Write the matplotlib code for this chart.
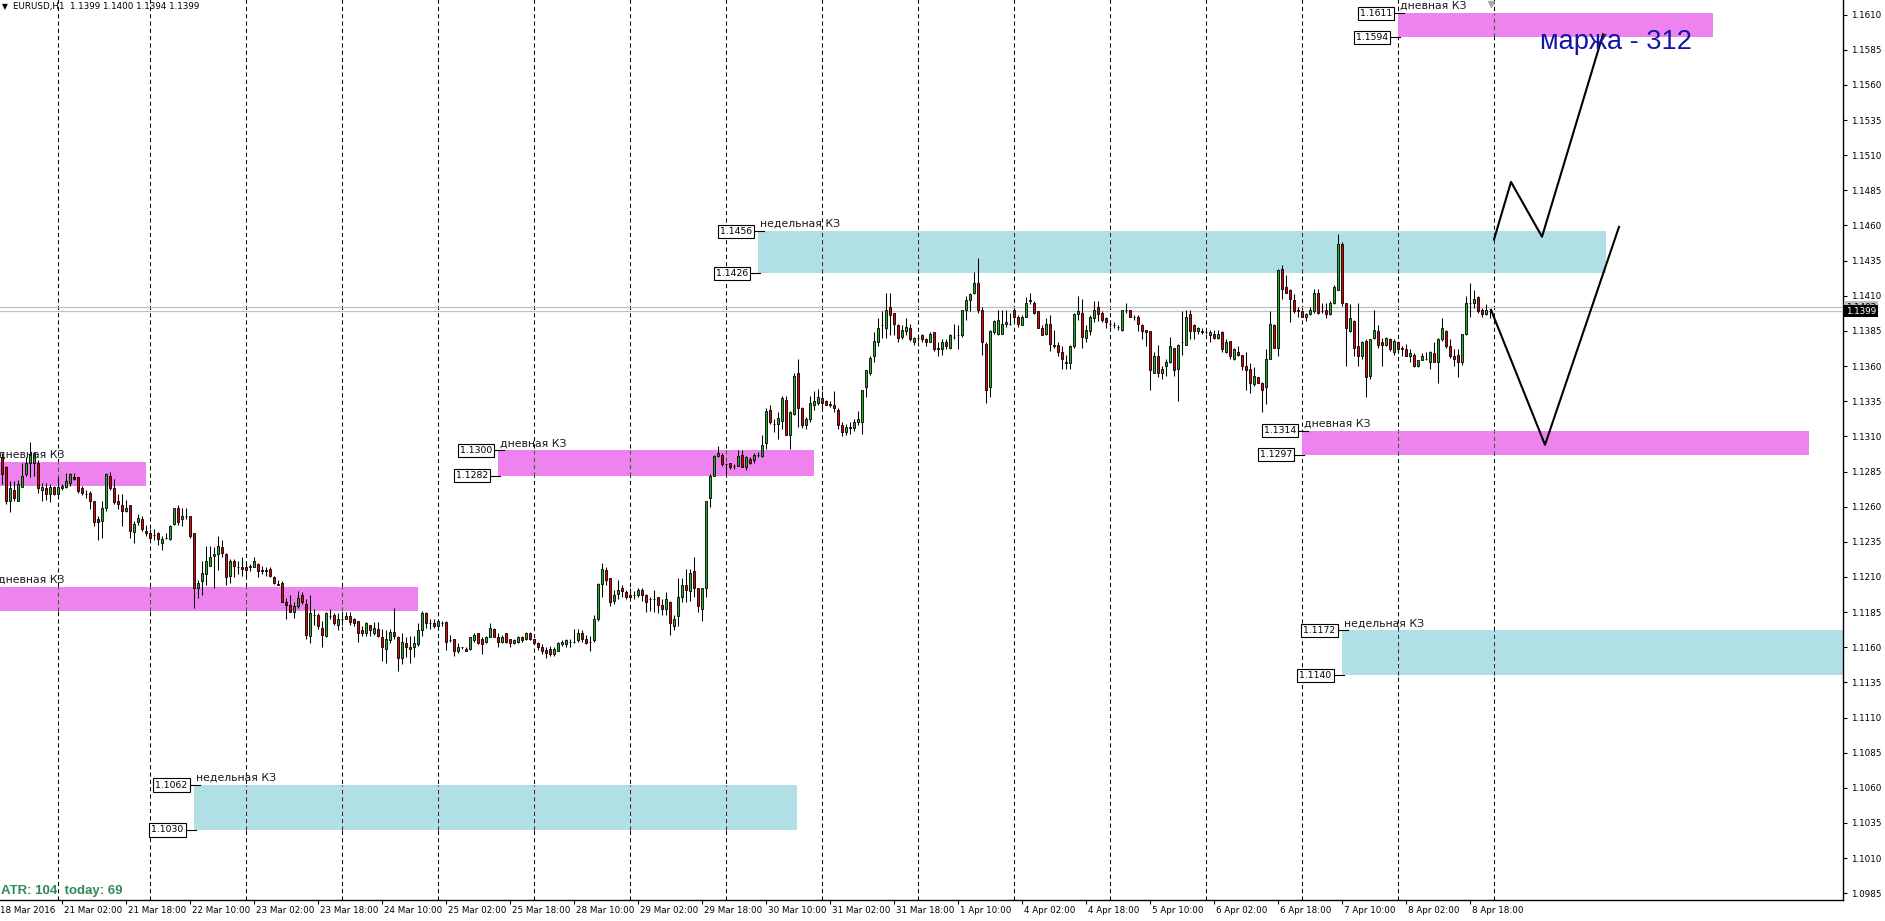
import numpy as np
import pandas as pd
import matplotlib
matplotlib.use("Agg")
import matplotlib.pyplot as plt
from matplotlib import transforms

# EURUSD H1 candles, prices in points (1 point = 0.0001)
opens = [
    11290, 11295, 11288, 11264, 11272, 11264, 11274, 11283, 11291, 11291,
    11291, 11272, 11273, 11269, 11274, 11269, 11273, 11274, 11277, 11281,
    11281, 11273, 11269, 11270, 11264, 11251, 11250, 11259, 11282, 11273,
    11264, 11261, 11257, 11261, 11242, 11249, 11251, 11243, 11241, 11240,
    11241, 11234, 11238, 11237, 11248, 11259, 11251, 11253, 11253, 11241,
    11202, 11207, 11212, 11218, 11225, 11226, 11231, 11226, 11211, 11221,
    11217, 11217, 11217, 11217, 11217, 11219, 11215, 11215, 11216, 11210,
    11205, 11206, 11192, 11190, 11185, 11189, 11197, 11191, 11168, 11183,
    11183, 11174, 11168, 11182, 11183, 11176, 11180, 11180, 11182, 11180,
    11179, 11172, 11170, 11176, 11170, 11173, 11167, 11159, 11165, 11171,
    11167, 11152, 11163, 11160, 11160, 11162, 11172, 11184, 11177, 11177,
    11175, 11177, 11178, 11165, 11166, 11157, 11160, 11159, 11159, 11165,
    11170, 11166, 11164, 11167, 11173, 11167, 11164, 11170, 11166, 11163,
    11164, 11167, 11166, 11170, 11166, 11163, 11160, 11158, 11159, 11155,
    11157, 11162, 11162, 11164, 11164, 11165, 11170, 11166, 11164, 11165,
    11180, 11205, 11215, 11209, 11193, 11198, 11202, 11199, 11197, 11197,
    11197, 11201, 11197, 11194, 11194, 11196, 11190, 11187, 11192, 11175,
    11182, 11196, 11204, 11200, 11214, 11202, 11187, 11202, 11266, 11282,
    11296, 11297, 11290, 11291, 11289, 11289, 11297, 11288, 11294, 11293,
    11297, 11296, 11305, 11329, 11319, 11319, 11321, 11336, 11311, 11326,
    11355, 11330, 11318, 11322, 11332, 11334, 11337, 11335, 11333, 11332,
    11329, 11318, 11313, 11317, 11316, 11320, 11320, 11345, 11355, 11367,
    11377, 11389, 11387, 11402, 11398, 11389, 11381, 11385, 11387, 11377,
    11380, 11382, 11379, 11377, 11384, 11373, 11372, 11377, 11373, 11381,
    11382, 11382, 11400, 11407, 11412, 11419, 11400, 11376, 11345, 11384,
    11383, 11383, 11390, 11390, 11400, 11395, 11389, 11395, 11406, 11405,
    11399, 11387, 11383, 11390, 11375, 11375, 11370, 11363, 11362, 11374,
    11397, 11398, 11380, 11385, 11394, 11402, 11398, 11394, 11390, 11389,
    11388, 11386, 11400, 11400, 11395, 11395, 11389, 11386, 11385, 11355,
    11367, 11355, 11360, 11363, 11373, 11358, 11377, 11375, 11397, 11389,
    11385, 11385, 11384, 11382, 11383, 11380, 11384, 11370, 11378, 11365,
    11370, 11368, 11360, 11358, 11347, 11352, 11348, 11345, 11365, 11389,
    11373, 11429, 11416, 11414, 11407, 11400, 11399, 11395, 11397, 11399,
    11412, 11399, 11400, 11397, 11405, 11414, 11447, 11405, 11385, 11392,
    11374, 11367, 11378, 11353, 11380, 11385, 11377, 11375, 11379, 11370,
    11377, 11373, 11372, 11367, 11368, 11360, 11364, 11365, 11363, 11369,
    11363, 11379, 11385, 11374, 11367, 11368, 11363, 11383, 11405, 11405,
    11409, 11400, 11397, 11399,
]
highs = [
    11300, 11298, 11289, 11278, 11278, 11279, 11291, 11295, 11306, 11299,
    11293, 11277, 11277, 11276, 11275, 11281, 11276, 11284, 11284, 11284,
    11281, 11275, 11272, 11271, 11264, 11253, 11264, 11284, 11285, 11280,
    11269, 11269, 11265, 11261, 11250, 11255, 11253, 11247, 11244, 11244,
    11242, 11239, 11241, 11247, 11259, 11261, 11259, 11259, 11253, 11241,
    11208, 11221, 11232, 11232, 11231, 11239, 11236, 11227, 11223, 11223,
    11221, 11224, 11220, 11219, 11224, 11220, 11218, 11217, 11217, 11211,
    11208, 11207, 11195, 11197, 11192, 11200, 11199, 11194, 11197, 11187,
    11184, 11179, 11185, 11187, 11184, 11184, 11184, 11185, 11185, 11181,
    11179, 11175, 11178, 11176, 11178, 11178, 11173, 11172, 11173, 11188,
    11168, 11170, 11167, 11168, 11168, 11177, 11186, 11185, 11180, 11180,
    11180, 11179, 11179, 11169, 11166, 11163, 11160, 11160, 11167, 11170,
    11170, 11167, 11168, 11177, 11174, 11170, 11169, 11170, 11166, 11166,
    11168, 11168, 11171, 11171, 11166, 11164, 11162, 11160, 11161, 11160,
    11164, 11165, 11166, 11166, 11173, 11173, 11172, 11169, 11168, 11183,
    11206, 11220, 11217, 11209, 11201, 11208, 11204, 11201, 11202, 11200,
    11202, 11202, 11198, 11196, 11201, 11196, 11194, 11199, 11193, 11183,
    11209, 11209, 11216, 11216, 11224, 11202, 11202, 11264, 11283, 11297,
    11303, 11298, 11291, 11291, 11290, 11300, 11300, 11296, 11295, 11298,
    11299, 11311, 11330, 11332, 11322, 11327, 11339, 11339, 11328, 11355,
    11365, 11331, 11324, 11339, 11342, 11344, 11342, 11336, 11335, 11342,
    11330, 11320, 11319, 11320, 11322, 11328, 11343, 11357, 11367, 11384,
    11394, 11399, 11412, 11412, 11398, 11390, 11389, 11394, 11390, 11381,
    11383, 11383, 11380, 11384, 11384, 11377, 11379, 11379, 11383, 11390,
    11389, 11400, 11410, 11412, 11427, 11437, 11402, 11377, 11386, 11393,
    11400, 11400, 11400, 11398, 11400, 11396, 11396, 11409, 11412, 11406,
    11399, 11389, 11394, 11396, 11386, 11377, 11374, 11368, 11375, 11398,
    11410, 11408, 11389, 11396, 11406, 11406, 11399, 11395, 11393, 11391,
    11389, 11400, 11405, 11400, 11396, 11396, 11390, 11386, 11385, 11370,
    11375, 11360, 11365, 11381, 11373, 11376, 11399, 11400, 11400, 11390,
    11388, 11387, 11385, 11386, 11386, 11386, 11385, 11379, 11378, 11373,
    11374, 11368, 11370, 11362, 11359, 11352, 11349, 11372, 11399, 11390,
    11429, 11432, 11425, 11415, 11411, 11402, 11400, 11398, 11402, 11415,
    11415, 11405, 11405, 11406, 11418, 11454, 11448, 11405, 11404, 11393,
    11405, 11378, 11379, 11379, 11400, 11389, 11380, 11381, 11380, 11379,
    11378, 11374, 11376, 11372, 11369, 11364, 11369, 11370, 11371, 11377,
    11380, 11394, 11386, 11379, 11372, 11372, 11383, 11410, 11419, 11414,
    11410, 11401, 11404, 11400,
]
lows = [
    11282, 11276, 11262, 11256, 11264, 11264, 11274, 11282, 11281, 11282,
    11270, 11264, 11265, 11263, 11268, 11266, 11272, 11273, 11275, 11279,
    11270, 11268, 11266, 11258, 11246, 11236, 11238, 11257, 11272, 11262,
    11258, 11246, 11256, 11238, 11234, 11247, 11243, 11239, 11236, 11236,
    11233, 11229, 11237, 11236, 11247, 11247, 11246, 11251, 11238, 11188,
    11195, 11197, 11204, 11218, 11202, 11215, 11224, 11204, 11206, 11210,
    11212, 11211, 11211, 11214, 11217, 11210, 11212, 11211, 11210, 11205,
    11204, 11192, 11180, 11185, 11181, 11188, 11191, 11166, 11163, 11176,
    11173, 11160, 11167, 11180, 11176, 11172, 11176, 11180, 11176, 11175,
    11164, 11168, 11168, 11168, 11169, 11167, 11150, 11149, 11163, 11166,
    11143, 11148, 11153, 11149, 11153, 11161, 11168, 11174, 11173, 11174,
    11175, 11175, 11158, 11164, 11154, 11156, 11159, 11157, 11158, 11164,
    11162, 11155, 11163, 11167, 11167, 11160, 11163, 11163, 11160, 11162,
    11163, 11164, 11165, 11165, 11162, 11158, 11155, 11152, 11154, 11154,
    11157, 11161, 11160, 11160, 11163, 11164, 11164, 11162, 11157, 11164,
    11179, 11196, 11204, 11189, 11191, 11194, 11196, 11194, 11193, 11194,
    11196, 11193, 11185, 11186, 11185, 11184, 11183, 11183, 11169, 11172,
    11175, 11192, 11192, 11193, 11196, 11185, 11179, 11196, 11260, 11282,
    11295, 11289, 11282, 11287, 11287, 11289, 11288, 11286, 11290, 11291,
    11295, 11295, 11301, 11319, 11313, 11308, 11315, 11311, 11301, 11325,
    11317, 11316, 11315, 11320, 11329, 11332, 11329, 11332, 11331, 11327,
    11315, 11310, 11311, 11312, 11314, 11318, 11312, 11338, 11354, 11363,
    11374, 11380, 11380, 11382, 11382, 11377, 11379, 11382, 11378, 11375,
    11378, 11377, 11374, 11377, 11371, 11367, 11368, 11372, 11372, 11379,
    11372, 11381, 11393, 11399, 11411, 11398, 11368, 11334, 11338, 11383,
    11382, 11383, 11388, 11389, 11391, 11388, 11389, 11395, 11404, 11397,
    11387, 11382, 11382, 11371, 11373, 11367, 11358, 11358, 11358, 11373,
    11393, 11373, 11377, 11382, 11391, 11392, 11391, 11387, 11388, 11387,
    11386, 11385, 11398, 11395, 11393, 11385, 11379, 11374, 11343, 11355,
    11352, 11351, 11353, 11362, 11353, 11335, 11368, 11375, 11379, 11379,
    11383, 11383, 11383, 11377, 11379, 11379, 11370, 11369, 11365, 11364,
    11367, 11357, 11343, 11341, 11346, 11348, 11327, 11333, 11365, 11373,
    11367, 11408, 11412, 11391, 11398, 11395, 11395, 11392, 11396, 11398,
    11397, 11398, 11394, 11396, 11404, 11414, 11403, 11360, 11384, 11367,
    11360, 11365, 11338, 11351, 11379, 11373, 11360, 11374, 11371, 11368,
    11369, 11367, 11367, 11363, 11359, 11359, 11364, 11364, 11358, 11363,
    11348, 11378, 11373, 11366, 11360, 11352, 11361, 11382, 11395, 11401,
    11398, 11395, 11396, 11394,
]
closes = [
    11296, 11283, 11264, 11273, 11266, 11276, 11282, 11291, 11297, 11298,
    11273, 11274, 11269, 11274, 11269, 11274, 11275, 11278, 11283, 11280,
    11271, 11270, 11269, 11264, 11249, 11249, 11259, 11283, 11273, 11263,
    11262, 11257, 11259, 11243, 11248, 11252, 11244, 11241, 11238, 11240,
    11237, 11237, 11238, 11246, 11259, 11249, 11253, 11253, 11239, 11202,
    11206, 11213, 11221, 11224, 11226, 11232, 11227, 11210, 11221, 11218,
    11217, 11216, 11215, 11218, 11221, 11214, 11214, 11214, 11211, 11206,
    11204, 11192, 11190, 11185, 11189, 11195, 11192, 11169, 11184, 11183,
    11175, 11169, 11184, 11182, 11177, 11180, 11180, 11182, 11178, 11177,
    11170, 11170, 11177, 11172, 11174, 11168, 11160, 11166, 11171, 11168,
    11152, 11164, 11160, 11159, 11163, 11172, 11184, 11177, 11177, 11175,
    11179, 11177, 11164, 11165, 11157, 11160, 11160, 11157, 11167, 11169,
    11163, 11162, 11167, 11174, 11167, 11164, 11167, 11164, 11163, 11165,
    11167, 11165, 11170, 11166, 11163, 11160, 11157, 11156, 11155, 11159,
    11163, 11164, 11165, 11164, 11164, 11170, 11166, 11163, 11164, 11180,
    11205, 11216, 11208, 11192, 11197, 11201, 11200, 11196, 11196, 11197,
    11201, 11197, 11192, 11194, 11194, 11190, 11187, 11194, 11177, 11180,
    11196, 11204, 11201, 11213, 11202, 11189, 11202, 11264, 11282, 11296,
    11298, 11290, 11290, 11288, 11289, 11296, 11288, 11295, 11291, 11297,
    11297, 11304, 11328, 11320, 11319, 11323, 11337, 11311, 11327, 11353,
    11330, 11318, 11322, 11334, 11335, 11338, 11334, 11332, 11332, 11330,
    11318, 11313, 11317, 11316, 11320, 11322, 11343, 11357, 11366, 11378,
    11387, 11389, 11400, 11396, 11390, 11380, 11386, 11388, 11379, 11380,
    11380, 11379, 11377, 11383, 11372, 11372, 11377, 11374, 11382, 11381,
    11382, 11400, 11407, 11411, 11419, 11400, 11377, 11343, 11385, 11392,
    11393, 11390, 11391, 11390, 11395, 11390, 11395, 11405, 11407, 11398,
    11387, 11382, 11390, 11376, 11374, 11370, 11365, 11362, 11374, 11397,
    11399, 11381, 11386, 11395, 11400, 11397, 11393, 11391, 11390, 11389,
    11388, 11400, 11400, 11395, 11395, 11390, 11385, 11384, 11357, 11367,
    11355, 11358, 11363, 11374, 11357, 11375, 11377, 11395, 11385, 11385,
    11387, 11384, 11384, 11384, 11380, 11383, 11372, 11377, 11367, 11372,
    11368, 11360, 11357, 11348, 11353, 11348, 11343, 11365, 11390, 11373,
    11428, 11415, 11412, 11408, 11399, 11399, 11395, 11397, 11400, 11412,
    11398, 11399, 11397, 11405, 11416, 11447, 11405, 11387, 11394, 11373,
    11367, 11377, 11352, 11379, 11386, 11375, 11375, 11380, 11372, 11378,
    11372, 11372, 11367, 11369, 11360, 11364, 11367, 11365, 11370, 11363,
    11379, 11387, 11374, 11367, 11365, 11363, 11383, 11405, 11405, 11408,
    11399, 11397, 11400, 11399,
]

# trading days on the chart and the first hourly bar of each day
days = ["2016-03-18", "2016-03-21", "2016-03-22", "2016-03-23", "2016-03-24",
        "2016-03-25", "2016-03-28", "2016-03-29", "2016-03-30", "2016-03-31",
        "2016-04-01", "2016-04-04", "2016-04-05", "2016-04-06", "2016-04-07",
        "2016-04-08"]
first_hour = [9, 1, 0, 0, 0, 0, 0, 0, 0, 0, 0, 0, 0, 0, 0, 0]

# zones drawn on the chart (start/end in bars)
zone_start = [-0.5, -0.5, 125.1, 48.9, 190.1, 326.0, 335.9, 350.0]
zone_end = [36.9, 104.9, 204.0, 199.8, 402.0, 452.8, 480.0, 428.8]
zone_top = [1.1292, 1.1203, 1.1300, 1.1062, 1.1456, 1.1314, 1.1172, 1.1611]
zone_bot = [1.1275, 1.1186, 1.1282, 1.1030, 1.1426, 1.1297, 1.1140, 1.1594]
zone_weekly = [False, False, False, True, True, False, True, False]

# hand drawn scenario lines
path_a_x = [374.0, 378.25, 386.0, 401.25]
path_a_y = [1.1450, 1.1491, 1.1452, 1.1596]
path_b_x = [373.25, 386.75, 405.25]
path_b_y = [1.1400, 1.1304, 1.1459]

bid = 1.1399
ask = 1.1402
header = "EURUSD,H1  1.1399 1.1400 1.1394 1.1399"
atr_text = "ATR: 104  today: 69"
note_text = "маржа - 312"

o = np.array(opens) / 1e4
h = np.array(highs) / 1e4
l = np.array(lows) / 1e4
c = np.array(closes) / 1e4

times = []
for d, h0 in zip(days, first_hour):
    times += list(pd.date_range(f"{d} {h0:02d}:00", f"{d} 23:00", freq="h"))
n = len(times)
x = np.arange(n)

W, H = 1885, 921
fig = plt.figure(figsize=(W / 100, H / 100), dpi=100)
ax = fig.add_axes([0, 21 / H, 1843 / W, 900 / H])
ax.set_xlim(0.5, 461.25)
ax.set_ylim(1.09802, 1.16204)
for s in ["top", "left"]:
    ax.spines[s].set_visible(False)
for s in ["right", "bottom"]:
    ax.spines[s].set_linewidth(1.0)

DASH = (0, (4, 3))
VIOLET = "#EE82EE"
POWDER = "#B0E0E6"

# day separators
seps = [i for i in range(1, n) if times[i].date() != times[i - 1].date()] + [n]
ax.vlines(seps, 1.09, 1.17, colors="black", lw=0.75, linestyles=DASH, zorder=1)

# zones
for i in range(len(zone_start)):
    col = POWDER if zone_weekly[i] else VIOLET
    ax.fill_between([zone_start[i], zone_end[i]], zone_bot[i], zone_top[i],
                    color=col, lw=0, zorder=2)
    inv = "#4F1F19" if zone_weekly[i] else "#117D11"
    for sx in seps:
        if zone_start[i] < sx < zone_end[i]:
            ax.vlines(sx, zone_bot[i], zone_top[i], colors=inv, lw=0.75,
                      linestyles=DASH, zorder=2.5)
    name = "недельная КЗ" if zone_weekly[i] else "дневная КЗ"
    ax.annotate(name, xy=(zone_start[i], zone_top[i]), xytext=(1.5, 1.5),
                textcoords="offset points", ha="left", va="bottom",
                fontsize=7.8, color="#1a1a1a", annotation_clip=False, zorder=6)
    if zone_start[i] > 0:
        box = dict(boxstyle="square,pad=0.22", fc="white", ec="black", lw=0.8)
        ax.plot([zone_start[i] - 1.0, zone_start[i] + 1.5], [zone_top[i]] * 2,
                color="black", lw=0.8, zorder=6)
        ax.plot([zone_start[i] - 2.0, zone_start[i] + 0.5], [zone_bot[i]] * 2,
                color="black", lw=0.8, zorder=6)
        ax.annotate(f"{zone_top[i]:.4f}", xy=(zone_start[i] - 1.0, zone_top[i]),
                    xytext=(-1.5, 0), textcoords="offset points", ha="right",
                    va="center", fontsize=6.7, bbox=box, zorder=7)
        ax.annotate(f"{zone_bot[i]:.4f}", xy=(zone_start[i] - 2.0, zone_bot[i]),
                    xytext=(-1.5, 0), textcoords="offset points", ha="right",
                    va="center", fontsize=6.7, bbox=box, zorder=7)

# bid / ask lines
ax.axhline(ask, color="#C0C0C0", lw=0.9, zorder=3)
ax.axhline(bid, color="#C0C0C0", lw=0.9, zorder=3)

# candles
up = c >= o
ax.vlines(x, np.minimum(l, np.minimum(o, c)), np.maximum(h, np.maximum(o, c)),
          colors="black", lw=0.75, zorder=4)
ax.bar(x, c - o, bottom=o, width=0.6, color=np.where(up, "#22B022", "#E00000"),
       edgecolor="black", lw=0.6, zorder=5)

# scenario lines
ax.plot(path_a_x, path_a_y, color="black", lw=1.5, zorder=6)
ax.plot(path_b_x, path_b_y, color="black", lw=1.5, zorder=6)

ax.text(385.5, 1.15856, note_text, fontsize=19.5, family="Liberation Sans",
        color="#1616A6", ha="left", va="baseline", zorder=7)

# right price scale
yt = np.round(np.arange(1.0985, 1.16101, 0.0025), 4)
ax.yaxis.tick_right()
ax.set_yticks(yt)
ax.set_yticklabels([f"{v:.4f}" for v in yt])
ax.tick_params(axis="y", direction="out", length=3, width=0.8, pad=2.5,
               labelsize=6.3)

ybl = transforms.blended_transform_factory(ax.transAxes, ax.transData)
ax.text(1.0 + 3 / 1843, ask, f"{ask:.4f}", transform=ybl, ha="left", va="center",
        fontsize=6.3, color="black", clip_on=False, zorder=8,
        bbox=dict(boxstyle="square,pad=0.2", fc="#C0C0C0", ec="none"))
ax.text(1.0 + 3 / 1843, bid, f"{bid:.4f}", transform=ybl, ha="left", va="center",
        fontsize=6.3, color="white", clip_on=False, zorder=9,
        bbox=dict(boxstyle="square,pad=0.2", fc="black", ec="none"))

# time scale
xt = list(range(0, n, 16))
xlabels = []
for i in xt:
    t = times[i]
    xlabels.append(f"{t.day} {t:%b %Y}" if i == 0 else f"{t.day} {t:%b %H:%M}")
ax.set_xticks([v for v in xt if v > 0.5])
ax.set_xticklabels([])
ax.tick_params(axis="x", direction="out", length=3, width=0.8)
xbl = transforms.blended_transform_factory(ax.transData, ax.transAxes)
for i, lab in zip(xt, xlabels):
    ax.text(i + 0.6, -10 / 900, lab, transform=xbl, ha="left", va="center",
            fontsize=6.3, clip_on=False)

# shift marker and header texts
ax.plot([373.25], [0.996], marker="v", ms=5, color="#A8A8A8", transform=xbl,
        clip_on=False, zorder=9)
fig.text(2 / W, 1 - 7 / H, "\u25bc", fontsize=5.5, va="center")
fig.text(13 / W, 1 - 7 / H, header, fontsize=6.3, va="center")
fig.text(1 / W, (H - 891) / H, atr_text, fontsize=9.5, fontweight="bold",
         family="Liberation Sans", color="#2E8B57", va="center")

fig.savefig("out.png", dpi=100)
